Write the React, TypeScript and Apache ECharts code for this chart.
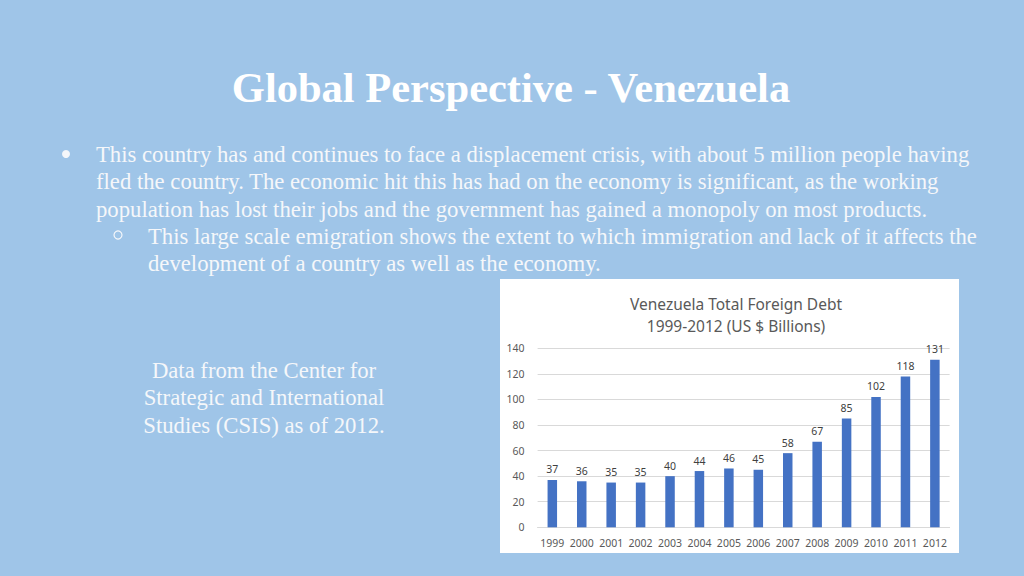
import { useEffect, useRef } from 'react';
import * as echarts from 'echarts';

const years = ['1999', '2000', '2001', '2002', '2003', '2004', '2005', '2006', '2007', '2008', '2009', '2010', '2011', '2012'];
const debtBillions = [37, 36, 35, 35, 40, 44, 46, 45, 58, 67, 85, 102, 118, 131];
const yTicks = { min: 0, max: 140, interval: 20 };

const slideTitle = 'Global Perspective - Venezuela';
const bulletLines = [
  'This country has and continues to face a displacement crisis, with about 5 million people having',
  'fled the country. The economic hit this has had on the economy is significant, as the working',
  'population has lost their jobs and the government has gained a monopoly on most products.',
];
const subBulletLines = [
  'This large scale emigration shows the extent to which immigration and lack of it affects the',
  'development of a country as well as the economy.',
];
const sourceLines = ['Data from the Center for', 'Strategic and International', 'Studies (CSIS) as of 2012.'];

const serif = '"Liberation Serif", "Times New Roman", serif';
const sans = '"Noto Sans", "Open Sans", sans-serif';
const textWhite = '#f5f7fa';

export default function App() {
  const chartRef = useRef<HTMLDivElement | null>(null);

  useEffect(() => {
    if (!chartRef.current) return;
    const chart = echarts.init(chartRef.current, null, { renderer: 'svg' });

    // one slide text line, placed by its vertical middle
    const bodyText = (text: string, x: number, y: number, align = 'left') => ({
      type: 'text',
      x,
      y,
      silent: true,
      style: {
        text,
        fill: textWhite,
        font: `22.7px ${serif}`,
        textAlign: align,
        textVerticalAlign: 'middle',
      },
    });

    chart.setOption({
      animation: false,
      backgroundColor: '#9fc5e8',
      title: {
        text: 'Venezuela Total Foreign Debt\n1999-2012 (US $ Billions)',
        left: 731,
        top: 288,
        textAlign: 'center',
        textStyle: {
          fontFamily: sans,
          fontSize: 15.5,
          fontWeight: 'normal',
          color: '#595959',
          lineHeight: 22,
        },
      },
      graphic: [
        {
          type: 'rect',
          z: -10,
          silent: true,
          shape: { x: 500, y: 279, width: 459, height: 274 },
          style: { fill: '#ffffff' },
        },
        {
          type: 'text',
          x: 511,
          y: 87.5,
          silent: true,
          style: {
            text: slideTitle,
            fill: '#ffffff',
            font: `bold 42.5px ${serif}`,
            textAlign: 'center',
            textVerticalAlign: 'middle',
          },
        },
        {
          type: 'circle',
          silent: true,
          shape: { cx: 66, cy: 154, r: 4 },
          style: { fill: textWhite },
        },
        ...bulletLines.map((t, i) => bodyText(t, 96, 154.5 + i * 27.3)),
        {
          type: 'circle',
          silent: true,
          shape: { cx: 118, cy: 235, r: 4 },
          style: { fill: 'none', stroke: textWhite, lineWidth: 1.2 },
        },
        ...subBulletLines.map((t, i) => bodyText(t, 148, 236.5 + i * 27.3)),
        ...sourceLines.map((t, i) => bodyText(t, 264, 370.5 + i * 27.3, 'center')),
      ],
      grid: {
        left: 537.6,
        right: 74.4,
        top: 348.3,
        bottom: 48.7,
        containLabel: false,
      },
      xAxis: {
        type: 'category',
        data: years,
        axisLine: { lineStyle: { color: '#d9d9d9', width: 1 } },
        axisTick: { show: false },
        axisLabel: { color: '#595959', fontFamily: sans, fontSize: 10.5, margin: 10, interval: 0 },
      },
      yAxis: {
        type: 'value',
        min: yTicks.min,
        max: yTicks.max,
        interval: yTicks.interval,
        axisLine: { show: false },
        axisTick: { show: false },
        axisLabel: { color: '#595959', fontFamily: sans, fontSize: 10.5, margin: 13 },
        splitLine: { lineStyle: { color: '#d9d9d9', width: 1 } },
      },
      series: [
        {
          type: 'bar',
          data: debtBillions,
          barWidth: 9.5,
          itemStyle: { color: '#4472c4' },
          label: {
            show: true,
            position: 'top',
            distance: 5,
            color: '#404040',
            fontFamily: sans,
            fontSize: 10.5,
          },
        },
      ],
    });

    return () => {
      chart.dispose();
    };
  }, []);

  return (
    <div
      ref={chartRef}
      style={{ position: 'absolute', left: 0, top: 0, width: 1024, height: 576 }}
    />
  );
}
